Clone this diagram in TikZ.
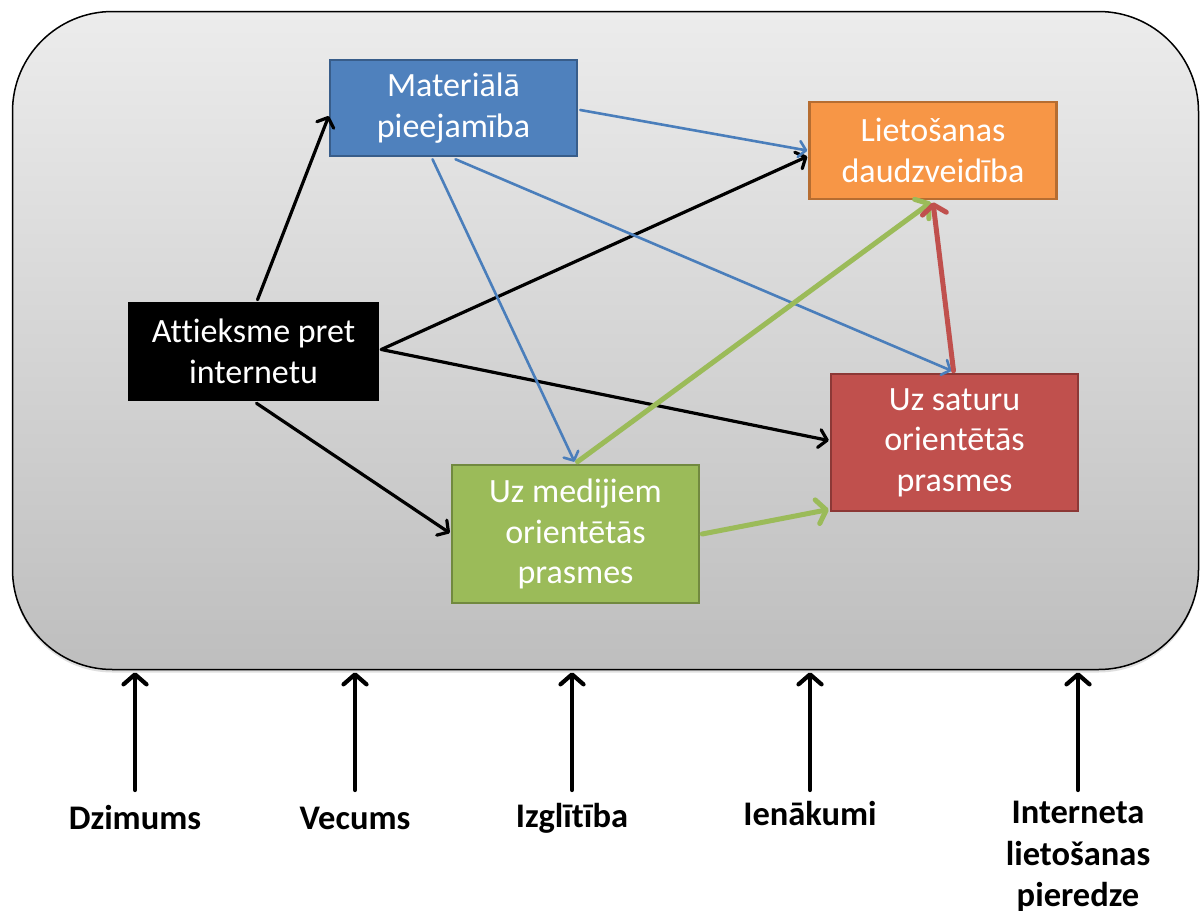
\documentclass[tikz,border=0pt]{standalone}
\usepackage{fontspec}
\setmainfont{Carlito}[Ligatures=NoCommon]
\usetikzlibrary{arrows.meta,calc,shadows}
\definecolor{bluefill}{HTML}{4F81BD}
\definecolor{blueedge}{HTML}{385D8A}
\definecolor{orfill}{HTML}{F79646}
\definecolor{oredge}{HTML}{B66D31}
\definecolor{redfill}{HTML}{C0504D}
\definecolor{rededge}{HTML}{8C3836}
\definecolor{grfill}{HTML}{9BBB59}
\definecolor{gredge}{HTML}{71893F}
\definecolor{blueline}{HTML}{4A7EBB}
\begin{document}
\begin{tikzpicture}[x=1pt,y=-1pt,
  box/.style={draw, line width=2.5pt, minimum width=247pt, text=white, align=center,
    font=\fontsize{34}{40.5}\selectfont, inner sep=0pt},
  lab/.style={align=center, font=\fontsize{34.5}{41.5}\selectfont\bfseries, inner sep=0pt},
  blk/.style={draw=black, line width=3.2pt, line cap=round, line join=round,
    -{Straight Barb[length=8pt,width=18pt,line cap=round,line join=round]}},
  blu/.style={draw=blueline, line width=2.6pt, line cap=round, line join=round,
    -{Straight Barb[length=7pt,width=16pt,line cap=round,line join=round]}},
  grn/.style={draw=grfill, line width=5pt, line cap=round, line join=round,
    -{Straight Barb[length=9pt,width=24pt,line cap=round,line join=round]}},
  rd/.style={draw=redfill, line width=5pt, line cap=round, line join=round,
    -{Straight Barb[length=9pt,width=24pt,line cap=round,line join=round]}},
  up/.style={draw=black, line width=4.2pt, line cap=round, line join=round,
    -{Straight Barb[length=10pt,width=23pt,line cap=round,line join=round]}}
]
\useasboundingbox (0,0) rectangle (1201,910);
\fill[white] (0,0) rectangle (1201,910);
% frame
\node[draw=black, line width=1.5pt, rounded corners=100pt, minimum width=1186pt,
  minimum height=658pt, inner sep=0pt, top color={rgb,255:red,236;green,236;blue,236},
  bottom color={rgb,255:red,190;green,190;blue,190},
  drop shadow={opacity=0.25, shadow xshift=0pt, shadow yshift=-3pt}] (frame) at (605.5,340.5) {};
% boxes
\node[box, fill=bluefill, draw=blueedge, minimum height=96pt] (mat) at (453.5,108) {Materiālā\\pieejamība};
\node[box, fill=orfill, draw=oredge, minimum height=97pt] (lie) at (933,150.5) {Lietošanas\\daudzveidība};
\node[box, fill=black, draw=black, minimum width=249pt, minimum height=97pt] (att) at (253.5,351.5) {Attieksme pret\\internetu};
\node[box, fill=redfill, draw=rededge, minimum height=137pt] (uzs) at (954.5,442.5) {Uz saturu\\orientētās\\prasmes};
\node[box, fill=grfill, draw=gredge, minimum height=138pt] (uzm) at (575.5,534) {Uz medijiem\\orientētās\\prasmes};
% black arrows
\draw[blk] ($(att.north)+(4,-2)$) -- ($(mat.west)+(0,8)$);
\draw[blk] ($(att.east)+(2,-2)$) -- ($(lie.west)+(-1,6)$);
\draw[blk] ($(att.east)+(2,-2)$) -- ($(uzs.west)+(-1,-2)$);
\draw[blk] ($(att.south)+(3,2)$) -- ($(uzm.west)+(-1,-1)$);
% blue arrows
\draw[blu] ($(mat.east)+(2,2)$) -- ($(lie.west)+(-1,0)$);
\draw[blu] ($(mat.south)+(-21,2)$) -- ($(uzm.north)+(-1,-2)$);
\draw[blu] ($(mat.south)+(2,2)$) -- ($(uzs.north)+(-3,-2)$);
% green arrows
\draw[grn] ($(uzm.north)+(2,-2)$) -- ($(lie.south)+(-2,2)$);
\draw[grn] ($(uzm.east)+(2,0)$) -- ($(uzs.west)+(-1,67)$);
% red arrow
\draw[rd] ($(uzs.north)+(-1,-2)$) -- ($(lie.south)+(0,2)$);
% bottom labels
\node[lab] (dz) at (135,818) {Dzimums};
\node[lab] (ve) at (355,818) {Vecums};
\node[lab] (iz) at (572,818) {Izglītība};
\node[lab] (ie) at (810,814) {Ienākumi};
\node[lab] (in) at (1078,857) {Interneta\\lietošanas\\pieredze};
\coordinate (t1) at (135,790);
\coordinate (t2) at (355,790);
\coordinate (t3) at (572,790);
\coordinate (t4) at (810,790);
\coordinate (t5) at (1078,790);
\foreach \t in {t1,t2,t3,t4,t5}{
  \draw[up] (\t) -- ($(\t |- frame.south)+(0,2)$);
}
\end{tikzpicture}
\end{document}
